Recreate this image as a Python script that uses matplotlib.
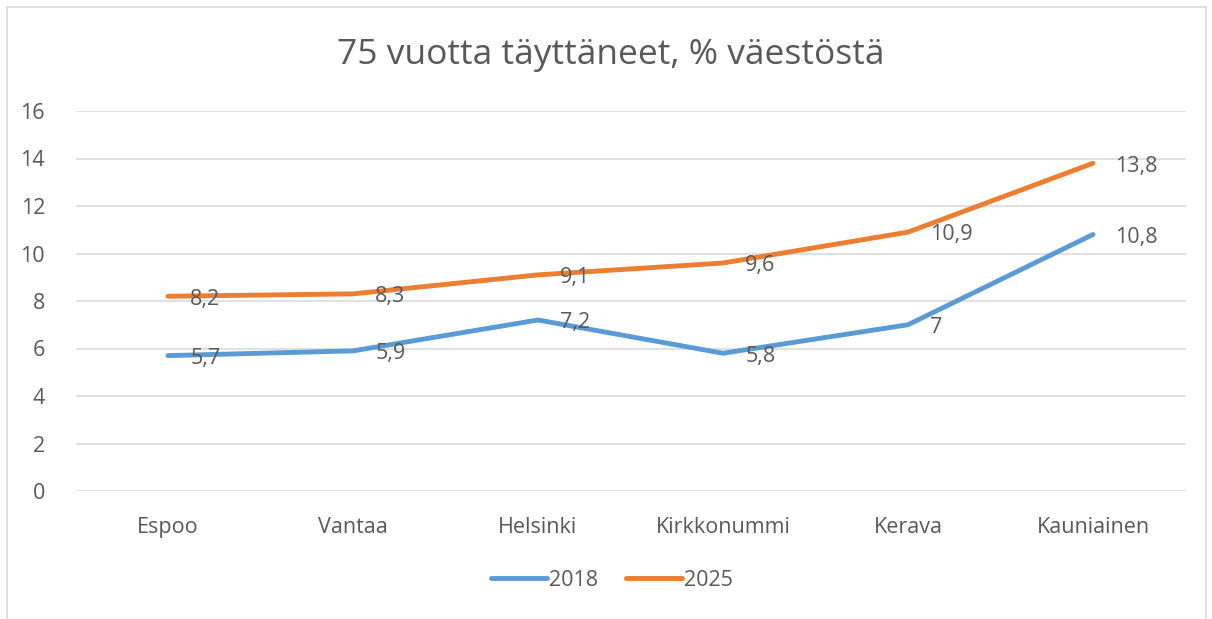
import matplotlib.pyplot as plt
from matplotlib.patches import Rectangle

kunnat = ["Espoo", "Vantaa", "Helsinki", "Kirkkonummi", "Kerava", "Kauniainen"]
v2018 = [5.7, 5.9, 7.2, 5.8, 7, 10.8]
v2025 = [8.2, 8.3, 9.1, 9.6, 10.9, 13.8]
yticks = [0, 2, 4, 6, 8, 10, 12, 14, 16]

plt.rcParams['font.family'] = ['Open Sans', 'DejaVu Sans']
txt = '#595959'

fig = plt.figure(figsize=(12.12, 6.19), dpi=100)
# plot area in pixels: x 75..1186, y 111..491
ax = fig.add_axes([75.5 / 1212, (619 - 491) / 619, 1110 / 1212, 380 / 619])

fig.patches.append(Rectangle((7 / 1212, -0.1), 1199 / 1212, 1.1 - 7 / 619,
                             transform=fig.transFigure, fill=False,
                             edgecolor='#D9D9D9', linewidth=1.2))

x = range(len(kunnat))
ax.plot(x, v2018, color='#5B9BD5', linewidth=3.5, solid_capstyle='round', label='2018')
ax.plot(x, v2025, color='#ED7D31', linewidth=3.5, solid_capstyle='round', label='2025')

def fmt(v):
    s = ('%g' % v).replace('.', ',')
    return s

for i in x:
    for v in (v2018[i], v2025[i]):
        ax.annotate(fmt(v), (i, v), xytext=(16, -2), textcoords='offset points',
                    ha='left', va='center', fontsize=15.5, color=txt)

ax.set_xlim(-0.5, 5.5)
ax.set_ylim(0, 16)
ax.set_yticks(yticks)
ax.set_xticks(list(x))
ax.set_xticklabels(kunnat)
ax.grid(axis='y', color='#D9D9D9', linewidth=1.1)
ax.set_axisbelow(True)
for s in ax.spines.values():
    s.set_visible(False)
ax.tick_params(length=0, labelsize=15.5, colors=txt)
ax.tick_params(axis='y', pad=22)
ax.tick_params(axis='x', pad=19)
for lbl in ax.get_yticklabels():
    lbl.set_horizontalalignment('right')

fig.text(0.504, 1 - 55 / 619, "75 vuotta täyttäneet, % väestöstä", ha='center', va='center',
         fontsize=25.5, color=txt)

fig.legend(loc='center', bbox_to_anchor=(0.505, 1 - 580 / 619), ncol=2, frameon=False,
           fontsize=15.5, labelcolor=txt, handlelength=2.6, handletextpad=0.1, columnspacing=1.3)

fig.savefig('out.png', dpi=100)
